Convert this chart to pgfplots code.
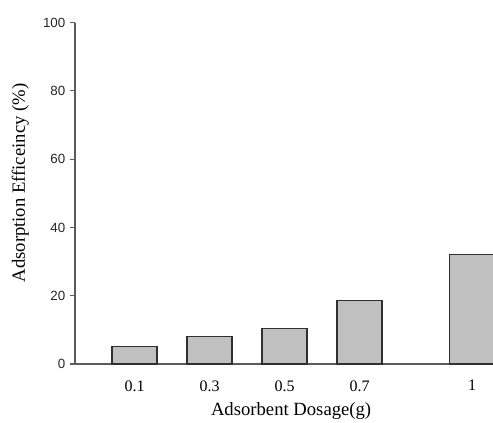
\documentclass[border=0pt]{standalone}
\usepackage{fontspec}
\setmainfont{Liberation Serif}
\newfontfamily\arialfont{Liberation Sans}
\usepackage{pgfplots}
\pgfplotsset{compat=1.18}

\definecolor{barfill}{HTML}{C0C0C0}
\definecolor{baredge}{HTML}{303030}
\definecolor{axisgray}{HTML}{5A5A5A}

\begin{document}
\begin{tikzpicture}
% fixed page frame around the axis box
\useasboundingbox (-56.25pt,-43.5pt) rectangle (313.5pt,273pt);
\begin{axis}[
  at={(0,0)}, anchor=south west,
  scale only axis,
  width=313.5pt, height=256.1pt,
  xmin=-0.0587, xmax=1.056,
  ymin=0, ymax=100,
  axis x line=bottom, axis y line=left,
  axis line style={-, draw=axisgray, line width=0.9pt},
  /pgf/number format/assume math mode=true,
  xtick={0.1,0.3,0.5,0.7,1},
  xticklabels={0.1,0.3,0.5,0.7,1},
  x tick label style={font=\fontsize{12}{14}\selectfont, yshift=-5pt},
  x tick style={draw=none},
  ytick={0,20,40,60,80,100},
  y tick label style={font=\arialfont\fontsize{10}{12}\selectfont, text=black!85},
  y tick style={draw=axisgray, line width=0.8pt},
  tick align=outside,
  major tick length=3.75pt,
  xlabel={Adsorbent Dosage(g)},
  ylabel={Adsorption Efficeincy (\%)},
  label style={font=\fontsize{14}{16}\selectfont},
  xlabel style={at={(axis description cs:0.517,0)}, anchor=center, yshift=-35pt},
  ylabel style={at={(axis description cs:0,0.53)}, anchor=center, yshift=41pt},
  clip=true,
]
\addplot[ybar, bar width=0.12, bar shift=0pt, fill=barfill, draw=baredge, line width=0.8pt]
  coordinates {(0.1,5.0) (0.3,8.0) (0.5,10.4) (0.7,18.5) (1,32.2)};
\end{axis}
\end{tikzpicture}
\end{document}
